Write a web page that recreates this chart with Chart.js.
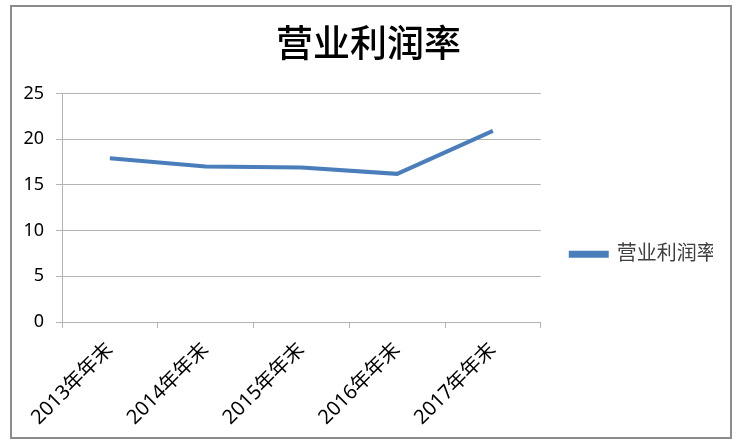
<!DOCTYPE html>
<html>
<head>
<meta charset="utf-8">
<script src="https://cdn.jsdelivr.net/npm/chart.js@4.4.1/dist/chart.umd.min.js"></script>
<style>
  html, body { margin: 0; padding: 0; background: #fff; }
  #wrap { position: relative; width: 740px; height: 448px; }
  #frame { position: absolute; left: 10px; top: 5px; width: 718px; height: 430px; border: 2px solid #8c8c8c; pointer-events: none; }
  canvas { display: block; }
</style>
</head>
<body>
<div id="wrap">
  <canvas id="c" width="740" height="448"></canvas>
  <div id="frame"></div>
</div>
<script>
const categories = ['2013年年末', '2014年年末', '2015年年末', '2016年年末', '2017年年末'];
const seriesName = '营业利润率';
const values = [17.9, 17.0, 16.9, 16.2, 20.9];
const yTicks = [0, 5, 10, 15, 20, 25];

const FONT = "'Noto Sans', 'Noto Sans CJK SC', sans-serif";
const lineColor = '#4a7ebb';
const gridColor = '#b3b3b3';

new Chart(document.getElementById('c'), {
  type: 'line',
  data: {
    labels: categories,
    datasets: [{
      label: seriesName,
      data: values,
      borderColor: lineColor,
      backgroundColor: lineColor,
      borderWidth: 4,
      pointRadius: 0,
      pointHoverRadius: 0,
      tension: 0,
      fill: false
    }]
  },
  options: {
    responsive: false,
    animation: false,
    devicePixelRatio: 1,
    layout: { padding: { left: 24, right: 27, top: 6, bottom: 14 } },
    plugins: {
      tooltip: { enabled: false },
      title: {
        display: true,
        text: seriesName,
        color: '#000',
        font: { family: FONT, size: 37, weight: 500 },
        padding: { top: 18, bottom: 25 }
      },
      legend: {
        display: true,
        position: 'right',
        title: { display: true, text: '', padding: { top: 54, bottom: 0 } },
        labels: {
          boxWidth: 36,
          boxHeight: 3,
          padding: 30,
          color: '#404040',
          font: { family: FONT, size: 20 }
        }
      }
    },
    scales: {
      x: {
        type: 'category',
        offset: true,
        afterFit: s => { s.height = 112; },
        grid: {
          offset: true,
          drawOnChartArea: false,
          drawTicks: true,
          tickLength: 6,
          color: gridColor
        },
        border: { display: true, color: gridColor, width: 1 },
        ticks: {
          color: '#000',
          minRotation: 45,
          maxRotation: 45,
          autoSkip: false,
          padding: 10,
          font: { family: FONT, size: 20 }
        }
      },
      y: {
        min: 0,
        max: 25,
        afterFit: s => { s.width = 38; },
        afterBuildTicks: s => { s.ticks = yTicks.map(v => ({ value: v })); },
        grid: {
          color: gridColor,
          drawTicks: true,
          tickLength: 6,
          lineWidth: 1
        },
        border: { display: true, color: gridColor, width: 1 },
        ticks: {
          color: '#000',
          padding: 12,
          font: { family: FONT, size: 18 }
        }
      }
    }
  }
});
</script>
</body>
</html>
